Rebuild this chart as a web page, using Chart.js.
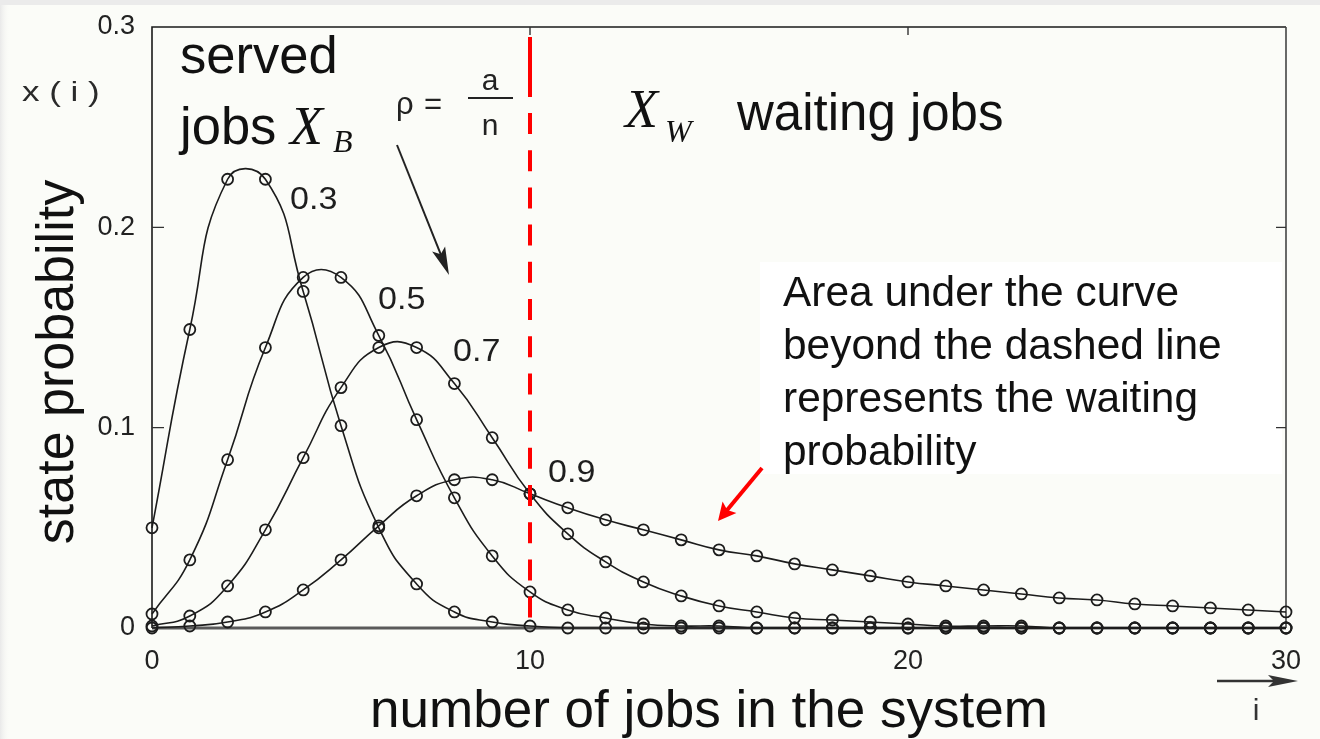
<!DOCTYPE html>
<html>
<head>
<meta charset="utf-8">
<title>State probabilities, M/M/n with n = 10</title>
<script src="https://cdn.jsdelivr.net/npm/chart.js@4.4.1/dist/chart.umd.min.js"></script>
<style>
  html, body { margin: 0; padding: 0; background: #fbfcf8; }
  #wrap { position: relative; width: 1320px; height: 739px; }
  canvas { display: block; }
</style>
</head>
<body>
<div id="wrap"><canvas id="chart" width="1320" height="739"></canvas></div>
<script>
// number of jobs in the system, i
const jobs = [0, 1, 2, 3, 4, 5, 6, 7, 8, 9, 10, 11, 12, 13, 14, 15, 16, 17, 18, 19, 20,
              21, 22, 23, 24, 25, 26, 27, 28, 29, 30];

// state probability x(i) for each load rho = a/n
const rho03 = [0.050, 0.149, 0.224, 0.224, 0.168, 0.101, 0.050, 0.022, 0.008, 0.003, 0.001,
               0.000, 0.000, 0.000, 0.000, 0.000, 0.000, 0.000, 0.000, 0.000, 0.000,
               0.000, 0.000, 0.000, 0.000, 0.000, 0.000, 0.000, 0.000, 0.000, 0.000];
const rho05 = [0.007, 0.034, 0.084, 0.140, 0.175, 0.175, 0.146, 0.104, 0.065, 0.036, 0.018,
               0.009, 0.005, 0.002, 0.001, 0.001, 0.000, 0.000, 0.000, 0.000, 0.000,
               0.000, 0.000, 0.000, 0.000, 0.000, 0.000, 0.000, 0.000, 0.000, 0.000];
const rho07 = [0.001, 0.006, 0.021, 0.049, 0.085, 0.120, 0.140, 0.140, 0.122, 0.095, 0.067,
               0.047, 0.033, 0.023, 0.016, 0.011, 0.008, 0.005, 0.004, 0.003, 0.002,
               0.001, 0.001, 0.001, 0.000, 0.000, 0.000, 0.000, 0.000, 0.000, 0.000];
const rho09 = [0.000, 0.001, 0.003, 0.008, 0.019, 0.034, 0.051, 0.066, 0.074, 0.074, 0.067,
               0.060, 0.054, 0.049, 0.044, 0.039, 0.036, 0.032, 0.029, 0.026, 0.023,
               0.021, 0.019, 0.017, 0.015, 0.014, 0.012, 0.011, 0.010, 0.009, 0.008];

const curveLabels = ['0.3', '0.5', '0.7', '0.9'];
const xTicks = [0, 10, 20, 30];
const yTicks = [0, 0.1, 0.2, 0.3];
const servers = 10; // n, where the dashed line sits

const SANS = '"Liberation Sans", Arial, sans-serif';
const SERIF = '"Liberation Serif", "Times New Roman", serif';

function curve(values) {
  return {
    data: jobs.map((x, k) => ({ x: x, y: values[k] })),
    borderColor: '#1c1c1c',
    borderWidth: 1.6,
    tension: 0.5,
    pointRadius: 5.5,
    pointBorderWidth: 1.8,
    pointBorderColor: '#1c1c1c',
    pointBackgroundColor: 'rgba(0,0,0,0)',
    clip: false
  };
}

// text helper, sx stretches the glyphs horizontally
function text(ctx, s, x, y, font, opts) {
  opts = opts || {};
  ctx.save();
  ctx.font = font;
  ctx.fillStyle = opts.color || '#111';
  ctx.textAlign = opts.align || 'left';
  ctx.textBaseline = opts.baseline || 'alphabetic';
  ctx.translate(x, y);
  if (opts.rotate) ctx.rotate(opts.rotate);
  ctx.scale(opts.sx || 1, 1);
  ctx.fillText(s, 0, 0);
  ctx.restore();
}

function arrow(ctx, x1, y1, x2, y2, color, width, head, half) {
  const ang = Math.atan2(y2 - y1, x2 - x1);
  ctx.save();
  ctx.strokeStyle = color;
  ctx.fillStyle = color;
  ctx.lineWidth = width;
  ctx.beginPath();
  ctx.moveTo(x1, y1);
  ctx.lineTo(x2 - Math.cos(ang) * head * 0.6, y2 - Math.sin(ang) * head * 0.6);
  ctx.stroke();
  ctx.translate(x2, y2);
  ctx.rotate(ang);
  ctx.beginPath();
  ctx.moveTo(0, 0);
  ctx.lineTo(-head, -half);
  ctx.lineTo(-head * 0.8, 0);
  ctx.lineTo(-head, half);
  ctx.closePath();
  ctx.fill();
  ctx.restore();
}

const framePlugin = {
  id: 'frame',
  beforeDraw(chart) {
    const { ctx, width, height } = chart;
    ctx.save();
    ctx.fillStyle = '#fbfcf8';
    ctx.fillRect(0, 0, width, height);
    ctx.fillStyle = '#ebebeb';
    ctx.fillRect(0, 0, width, 5);
    const g = ctx.createLinearGradient(0, 0, 10, 0);
    g.addColorStop(0, '#e9e9e9');
    g.addColorStop(1, 'rgba(251,252,248,0)');
    ctx.fillStyle = g;
    ctx.fillRect(0, 5, 10, height - 5);
    ctx.restore();
  },
  beforeDatasetsDraw(chart) {
    const { ctx, chartArea: a, scales: { x, y } } = chart;
    ctx.save();
    // white panel behind the note
    ctx.fillStyle = '#ffffff';
    ctx.fillRect(760, 262, 522, 212);

    ctx.lineCap = 'butt';
    ctx.strokeStyle = '#1a1a1a';
    ctx.lineWidth = 1.6;
    ctx.beginPath();
    ctx.moveTo(a.left, a.bottom);
    ctx.lineTo(a.left, a.top);
    ctx.lineTo(a.right, a.top);
    ctx.stroke();
    ctx.strokeStyle = '#444';
    ctx.beginPath();
    ctx.moveTo(a.right, a.top);
    ctx.lineTo(a.right, a.bottom);
    ctx.stroke();
    // inward tick marks
    ctx.lineWidth = 1.4;
    ctx.strokeStyle = '#333';
    [0.1, 0.2].forEach(v => {
      const py = y.getPixelForValue(v);
      ctx.beginPath();
      ctx.moveTo(a.left, py); ctx.lineTo(a.left + 12, py);
      ctx.moveTo(a.right, py); ctx.lineTo(a.right - 10, py);
      ctx.stroke();
    });
    [10, 20].forEach(v => {
      const px = x.getPixelForValue(v);
      ctx.beginPath();
      ctx.moveTo(px, a.top); ctx.lineTo(px, a.top + 8);
      ctx.stroke();
    });
    // base line
    ctx.strokeStyle = '#5a5a5a';
    ctx.lineWidth = 3;
    ctx.beginPath();
    ctx.moveTo(a.left, a.bottom);
    ctx.lineTo(a.right, a.bottom);
    ctx.stroke();
    ctx.restore();
  },
  afterDatasetsDraw(chart) {
    const { ctx, chartArea: a, scales: { x } } = chart;

    // dashed line at i = n
    const xn = x.getPixelForValue(servers);
    ctx.save();
    ctx.strokeStyle = '#ff0000';
    ctx.lineWidth = 4;
    ctx.beginPath();
    ctx.moveTo(xn, a.top + 10);
    ctx.lineTo(xn, a.top + 70);
    ctx.stroke();
    ctx.setLineDash([21, 16.2]);
    ctx.beginPath();
    ctx.moveTo(xn, a.top + 86);
    ctx.lineTo(xn, a.bottom);
    ctx.stroke();
    ctx.restore();

    // curve labels
    const labelPos = [[290, 200], [378, 300], [453, 352], [548, 473]];
    curveLabels.forEach((s, k) => {
      text(ctx, s, labelPos[k][0], labelPos[k][1], '31px ' + SANS,
        { baseline: 'middle', color: '#1e1e1e', sx: 1.1 });
    });

    // axis name at the top left
    text(ctx, 'x ( i )', 22, 93, '28px ' + SANS, { baseline: 'middle', color: '#2a2a2a', sx: 1.25 });

    // rho = a / n with arrow
    text(ctx, 'ρ', 396, 114, '31px ' + SANS, { color: '#222' });
    text(ctx, '=', 424, 114, '31px ' + SANS, { color: '#222' });
    ctx.save();
    ctx.strokeStyle = '#222';
    ctx.lineWidth = 2.2;
    ctx.beginPath();
    ctx.moveTo(468, 98); ctx.lineTo(513, 98);
    ctx.stroke();
    ctx.restore();
    text(ctx, 'a', 490, 90, '30px ' + SANS, { align: 'center', color: '#222' });
    text(ctx, 'n', 490, 135, '30px ' + SANS, { align: 'center', color: '#222' });
    arrow(ctx, 397, 145, 449, 275, '#222', 2, 28, 7);

    // served / waiting parts
    const big = '51px ' + SANS;
    text(ctx, 'served', 180, 73, big, { sx: 1.03 });
    text(ctx, 'jobs', 180, 144, big, { sx: 1.03 });
    text(ctx, 'X', 290, 144, 'italic 54px ' + SERIF);
    text(ctx, 'B', 333, 152, 'italic 32px ' + SERIF);
    text(ctx, 'X', 625, 127, 'italic 54px ' + SERIF);
    text(ctx, 'W', 665, 142, 'italic 32px ' + SERIF);
    text(ctx, 'waiting jobs', 737, 130, big);

    // note about the waiting probability
    const note = ['Area under the curve', 'beyond the dashed line',
                  'represents the waiting', 'probability'];
    note.forEach((s, k) => text(ctx, s, 783, 306 + k * 53, '42px ' + SANS, { sx: 1.01 }));
    arrow(ctx, 762, 468, 718, 521, '#ff0000', 4, 18, 9);

    // axis titles
    text(ctx, 'state probability', 73, 362, big, { align: 'center', rotate: -Math.PI / 2, sx: 1.02 });
    text(ctx, 'number of jobs in the system', 709, 727, big, { align: 'center', sx: 1.04 });

    // i arrow under the x axis
    arrow(ctx, 1217, 681, 1298, 681, '#333', 2.5, 30, 6);
    text(ctx, 'i', 1256, 712, '30px ' + SANS, { align: 'center', baseline: 'middle', color: '#333' });
  }
};

new Chart(document.getElementById('chart'), {
  type: 'line',
  data: { datasets: [curve(rho03), curve(rho05), curve(rho07), curve(rho09)] },
  options: {
    responsive: false,
    animation: false,
    devicePixelRatio: 1,
    layout: { padding: { top: 27, right: 34, left: 0, bottom: 0 } },
    plugins: { legend: { display: false }, tooltip: { enabled: false } },
    scales: {
      x: {
        type: 'linear',
        min: 0, max: 30,
        afterFit(scale) {
          scale.height = 111;
          scale.paddingLeft = 0; scale.paddingRight = 0;
        },
        afterBuildTicks(scale) { scale.ticks = xTicks.map(v => ({ value: v })); },
        grid: { display: false, drawTicks: false },
        border: { display: false },
        ticks: { padding: 17, color: '#222', font: { family: SANS, size: 27 } }
      },
      y: {
        type: 'linear',
        min: 0, max: 0.3,
        afterFit(scale) {
          scale.width = 152;
          scale.paddingTop = 0; scale.paddingBottom = 0;
        },
        afterBuildTicks(scale) { scale.ticks = yTicks.map(v => ({ value: v })); },
        grid: { display: false, drawTicks: false },
        border: { display: false },
        ticks: { padding: 17, color: '#222', font: { family: SANS, size: 27 },
                 callback: v => String(v) }
      }
    }
  },
  plugins: [framePlugin]
});
</script>
</body>
</html>
